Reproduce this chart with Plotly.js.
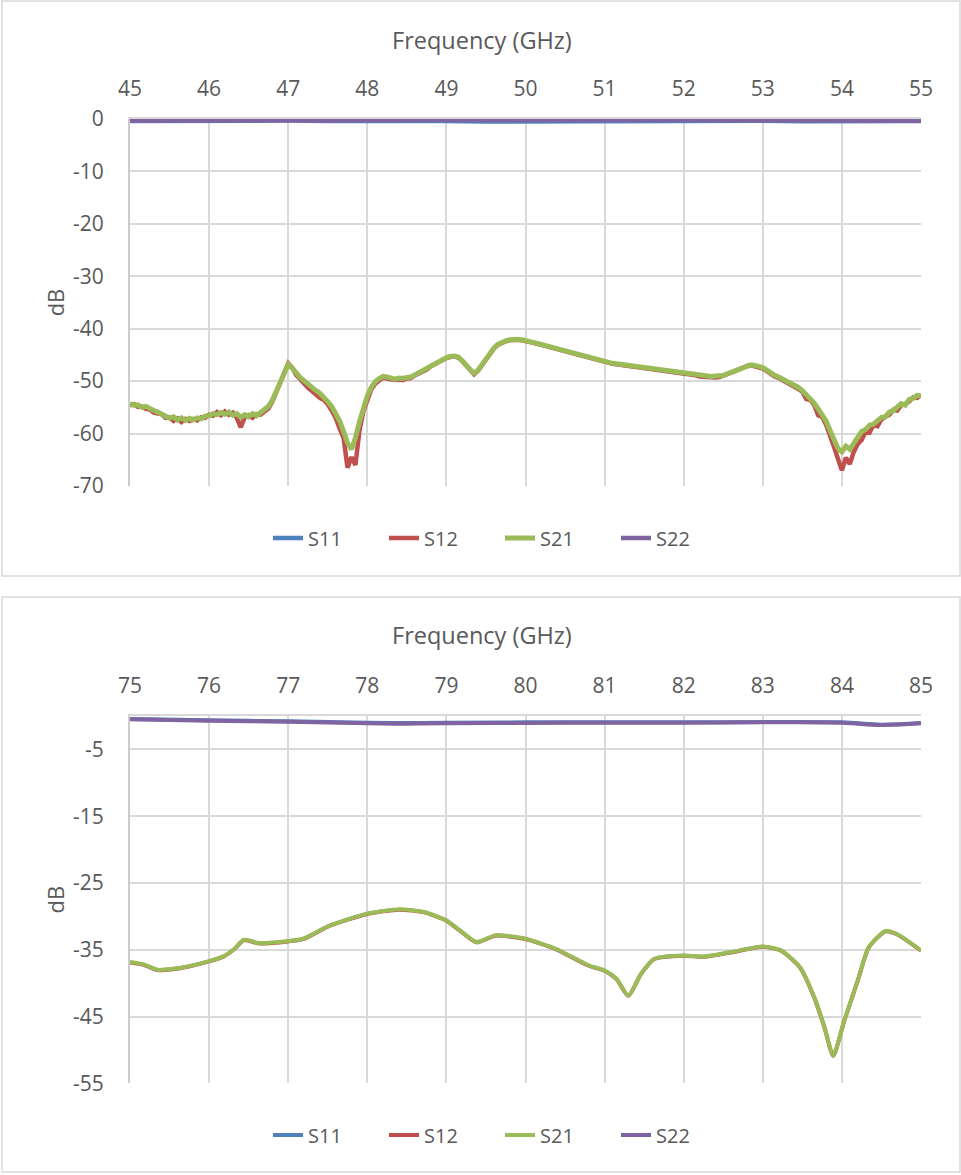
<!DOCTYPE html>
<html>
<head>
<meta charset="utf-8">
<script src="https://cdn.plot.ly/plotly-3.0.1.min.js"></script>
<style>html,body{margin:0;padding:0;background:#fff;}#chart{width:961px;height:1175px;}</style>
</head>
<body>
<div id="chart"></div>
<script>
// ---------- Panel 1 : 45-55 GHz (sampled every 0.05 GHz) ----------
var band1Start = 45;
var band1Step = 0.05;
var s21Band1 = [
 -54.3,-54.6,-54.5,-55.0,-54.8,-55.3,-55.6,-55.9,-56.4,-56.7,-57.1,-56.8,-57.4,-57.0,-57.5,-57.1,-57.4,-57.0,-57.2,-56.7,
 -56.6,-56.2,-56.4,-56.0,-56.3,-55.9,-56.5,-56.2,-56.9,-56.4,-56.8,-56.2,-56.6,-56.0,-55.6,-54.8,-53.6,-51.8,-49.8,-48.0,
 -46.8,-47.5,-48.5,-49.3,-49.9,-50.6,-51.2,-51.8,-52.3,-53.0,-53.9,-54.8,-56.2,-57.6,-59.6,-61.8,-63.0,-60.8,-57.8,-55.0,
 -52.8,-51.2,-50.1,-49.5,-49.1,-49.2,-49.4,-49.6,-49.4,-49.5,-49.3,-49.2,-48.8,-48.4,-48.0,-47.6,-47.1,-46.6,-46.2,-45.8,
 -45.5,-45.3,-45.2,-45.4,-46.0,-46.9,-47.8,-48.5,-47.9,-46.8,-45.7,-44.6,-43.7,-43.0,-42.6,-42.3,-42.1,-42.0,-42.0,-42.1,
 -42.2,-42.4,-42.6,-42.8,-43.0,-43.2,-43.4,-43.6,-43.8,-44.0,-44.3,-44.5,-44.8,-45.0,-45.2,-45.4,-45.6,-45.8,-46.0,-46.2,
 -46.3,-46.4,-46.6,-46.7,-46.8,-46.9,-47.0,-47.0,-47.1,-47.2,-47.3,-47.4,-47.5,-47.6,-47.8,-47.9,-48.1,-48.2,-48.3,-48.4,
 -48.5,-48.6,-48.7,-48.8,-48.9,-49.0,-49.0,-49.1,-49.0,-49.0,-48.9,-48.6,-48.3,-48.0,-47.6,-47.3,-47.0,-46.9,-47.0,-47.1,
 -47.4,-47.9,-48.5,-48.9,-49.2,-49.6,-49.9,-50.3,-50.8,-51.2,-51.8,-52.6,-53.3,-54.2,-55.3,-56.4,-57.6,-59.4,-61.0,-62.8,
 -63.5,-62.4,-63.0,-61.8,-60.9,-59.6,-59.2,-58.4,-58.2,-57.4,-56.9,-56.8,-55.9,-55.6,-55.0,-54.3,-54.6,-53.5,-53.3,-52.7,
 -52.8
];
var s12Band1 = [
 -54.6,-54.4,-54.9,-54.8,-55.3,-55.4,-56.0,-56.2,-56.3,-57.0,-56.9,-57.6,-57.1,-57.8,-57.2,-57.6,-57.2,-57.5,-56.9,-57.0,
 -56.4,-56.6,-55.9,-56.5,-55.8,-56.4,-56.0,-57.0,-58.8,-56.9,-56.5,-57.0,-56.3,-56.4,-55.9,-55.2,-53.9,-52.1,-50.2,-48.2,
 -46.6,-47.4,-48.8,-49.6,-50.5,-51.3,-51.9,-52.6,-53.2,-53.6,-54.4,-55.6,-57.0,-59.0,-60.8,-66.5,-64.5,-66.0,-59.5,-55.8,
 -53.5,-51.6,-50.5,-49.8,-49.3,-49.5,-49.7,-49.8,-49.7,-49.8,-49.5,-49.4,-48.9,-48.6,-48.1,-47.8,-47.2,-46.8,-46.3,-45.9,
 -45.6,-45.4,-45.3,-45.5,-46.1,-47.0,-47.9,-48.7,-48.0,-46.9,-45.8,-44.7,-43.8,-43.1,-42.7,-42.4,-42.2,-42.1,-42.1,-42.2,
 -42.3,-42.5,-42.7,-42.9,-43.1,-43.3,-43.5,-43.7,-43.9,-44.1,-44.4,-44.6,-44.9,-45.1,-45.3,-45.5,-45.7,-45.9,-46.1,-46.3,
 -46.4,-46.5,-46.7,-46.8,-46.9,-47.0,-47.1,-47.1,-47.2,-47.3,-47.4,-47.5,-47.6,-47.7,-47.9,-48.0,-48.2,-48.3,-48.4,-48.5,
 -48.6,-48.7,-48.8,-48.9,-49.1,-49.2,-49.3,-49.4,-49.3,-49.2,-49.0,-48.7,-48.4,-48.1,-47.7,-47.4,-47.1,-47.0,-47.2,-47.4,
 -47.6,-48.1,-48.7,-49.1,-49.4,-49.8,-50.1,-50.5,-51.0,-51.5,-52.0,-53.4,-53.6,-54.6,-56.5,-56.8,-58.3,-60.2,-62.5,-64.8,
 -67.0,-64.6,-65.8,-63.5,-62.0,-61.2,-59.6,-59.8,-58.3,-58.6,-57.3,-56.8,-56.4,-55.5,-55.6,-54.6,-54.4,-53.9,-53.1,-53.2,
 -52.6
];
var freqBand1Refl = [45,45.5,46,46.5,47,47.5,48,48.5,49,49.5,50,50.5,51,51.5,52,52.5,53,53.5,54,54.5,55];
var s11Band1 = [-0.4,-0.35,-0.45,-0.35,-0.3,-0.4,-0.35,-0.3,-0.4,-0.5,-0.45,-0.4,-0.35,-0.4,-0.45,-0.4,-0.35,-0.45,-0.5,-0.45,-0.4];
var s22Band1 = [-0.3,-0.25,-0.3,-0.2,-0.25,-0.3,-0.2,-0.2,-0.15,-0.2,-0.25,-0.2,-0.2,-0.15,-0.2,-0.25,-0.2,-0.3,-0.25,-0.3,-0.35];

// ---------- Panel 2 : 75-85 GHz ----------
var freqBand2 = [75,75.17,75.35,75.52,75.73,76,76.18,76.32,76.44,76.63,77,77.19,77.53,78,78.4,78.72,79,79.17,79.38,79.62,80,80.38,80.8,81,81.15,81.3,81.46,81.63,82,82.26,82.6,83,83.23,83.47,83.65,83.78,83.89,84.03,84.2,84.34,84.55,84.69,85];
var s21Band2 = [-36.85,-37.2,-38.0,-37.9,-37.5,-36.7,-36.0,-34.85,-33.5,-34.0,-33.7,-33.35,-31.35,-29.6,-28.95,-29.35,-30.6,-32.1,-33.85,-32.85,-33.35,-34.85,-37.35,-38.1,-39.35,-41.85,-38.6,-36.35,-35.85,-36.0,-35.35,-34.5,-35.1,-37.6,-42.1,-46.6,-50.85,-45.6,-39.6,-34.6,-32.2,-32.6,-35.1];
var s12Band2 = [-36.9,-37.25,-38.05,-37.95,-37.55,-36.75,-36.05,-34.9,-33.55,-34.05,-33.75,-33.4,-31.4,-29.65,-29.0,-29.4,-30.65,-32.15,-33.9,-32.9,-33.4,-34.9,-37.4,-38.15,-39.4,-41.9,-38.65,-36.4,-35.9,-36.05,-35.4,-34.55,-35.15,-37.65,-42.15,-46.65,-50.9,-45.65,-39.65,-34.65,-32.25,-32.65,-35.15];
var freqBand2Refl = [75,76,77,78,78.5,79,80,81,82,83,84,84.5,85];
var s11Band2 = [-0.45,-0.65,-0.8,-1.0,-1.05,-1.0,-0.95,-0.95,-0.95,-0.9,-0.95,-1.3,-1.05];
var s22Band2 = [-0.5,-0.7,-0.85,-1.1,-1.15,-1.1,-1.05,-1.0,-1.0,-0.95,-1.0,-1.35,-1.1];

var seriesNames = ['S11','S12','S21','S22'];
var seriesColors = ['#4F81BD','#C0504D','#9BBB59','#8064A2'];
var xTicks1 = [45,46,47,48,49,50,51,52,53,54,55];
var xTicks2 = [75,76,77,78,79,80,81,82,83,84,85];
var yTicks1 = [0,-10,-20,-30,-40,-50,-60,-70];
var yTicks2 = [-5,-15,-25,-35,-45,-55];
var xTitle = 'Frequency (GHz)';
var yTitle = 'dB';

var FONT = '"Open Sans", Lato, sans-serif';
var TXT = '#595959';
var GRID = '#d9d9d9';

var traces = [
  {name:seriesNames[0], x:freqBand1Refl, y:s11Band1, xaxis:'x', yaxis:'y', legend:'legend', line:{color:seriesColors[0], width:4.5}},
  {name:seriesNames[1], x0:band1Start, dx:band1Step, y:s12Band1, xaxis:'x', yaxis:'y', legend:'legend', line:{color:seriesColors[1], width:4.5}},
  {name:seriesNames[2], x0:band1Start, dx:band1Step, y:s21Band1, xaxis:'x', yaxis:'y', legend:'legend', line:{color:seriesColors[2], width:5}},
  {name:seriesNames[3], x:freqBand1Refl, y:s22Band1, xaxis:'x', yaxis:'y', legend:'legend', line:{color:seriesColors[3], width:4.5}},
  {name:seriesNames[0], x:freqBand2Refl, y:s11Band2, xaxis:'x2', yaxis:'y2', legend:'legend2', line:{color:seriesColors[0], width:4, shape:'spline'}},
  {name:seriesNames[1], x:freqBand2, y:s12Band2, xaxis:'x2', yaxis:'y2', legend:'legend2', line:{color:seriesColors[1], width:4, shape:'spline', smoothing:0.6}},
  {name:seriesNames[2], x:freqBand2, y:s21Band2, xaxis:'x2', yaxis:'y2', legend:'legend2', line:{color:seriesColors[2], width:4, shape:'spline', smoothing:0.6}},
  {name:seriesNames[3], x:freqBand2Refl, y:s22Band2, xaxis:'x2', yaxis:'y2', legend:'legend2', line:{color:seriesColors[3], width:4, shape:'spline'}}
];
traces.forEach(function(t){ t.type='scatter'; t.mode='lines'; t.hoverinfo='skip'; });

var H = 1175, W = 961;
function py(p){ return 1 - p/H; }
function px(p){ return p/W; }

function xAxis(ticks, anchor){
  return {
    domain:[px(130), px(921)], range:[ticks[0], ticks[ticks.length-1]], anchor:anchor,
    side:'top', tickmode:'array', tickvals:ticks, ticktext:ticks.map(String),
    showgrid:true, gridcolor:GRID, gridwidth:2, zeroline:false,
    showline:true, linecolor:GRID, linewidth:2, ticks:'', ticklabelstandoff:13,
    tickfont:{family:FONT, size:21, color:TXT}
  };
}
function yAxis(ticks, rng, dom, anchor){
  return {
    domain:dom, range:rng, anchor:anchor,
    tickmode:'array', tickvals:ticks, ticktext:ticks.map(String),
    showgrid:true, gridcolor:GRID, gridwidth:2, zeroline:false,
    showline:true, linecolor:'#cccccc', linewidth:2, ticks:'', ticklabelstandoff:20,
    tickfont:{family:FONT, size:21, color:TXT},
    title:{text:yTitle, font:{family:FONT, size:22, color:TXT}, standoff:2}
  };
}

var legendBase = {orientation:'h', xanchor:'left', yanchor:'middle', x:px(268),
  font:{family:FONT, size:20, color:TXT}, bgcolor:'rgba(0,0,0,0)', entrywidth:71, entrywidthmode:'pixels', tracegroupgap:0};

function xTitleAnn(yPix){
  return {text:xTitle, xref:'paper', yref:'paper', x:px(482), y:py(yPix), xanchor:'center', yanchor:'middle',
          showarrow:false, font:{family:FONT, size:23.5, color:TXT}};
}

var layout = {
  width:W, height:H, margin:{l:0, r:0, t:0, b:0},
  paper_bgcolor:'#fff', plot_bgcolor:'#fff',
  font:{family:FONT, color:TXT},
  xaxis: xAxis(xTicks1, 'y'),
  yaxis: yAxis(yTicks1, [-70, 0], [py(486), py(119)], 'x'),
  xaxis2: xAxis(xTicks2, 'y2'),
  yaxis2: yAxis(yTicks2, [-55, 0], [py(1083.3), py(716)], 'x2'),
  legend: Object.assign({}, legendBase, {y:py(538)}),
  legend2: Object.assign({}, legendBase, {y:py(1135)}),
  annotations:[xTitleAnn(40), xTitleAnn(635)],
  shapes:[
    {type:'rect', xref:'paper', yref:'paper', x0:px(2), x1:px(960), y0:py(576), y1:py(1), line:{color:GRID, width:1.5}, layer:'below'},
    {type:'rect', xref:'paper', yref:'paper', x0:px(2), x1:px(960), y0:py(1172), y1:py(597), line:{color:GRID, width:1.5}, layer:'below'}
  ],
  showlegend:true
};

Plotly.newPlot('chart', traces, layout, {staticPlot:true, displayModeBar:false});
</script>
</body>
</html>
